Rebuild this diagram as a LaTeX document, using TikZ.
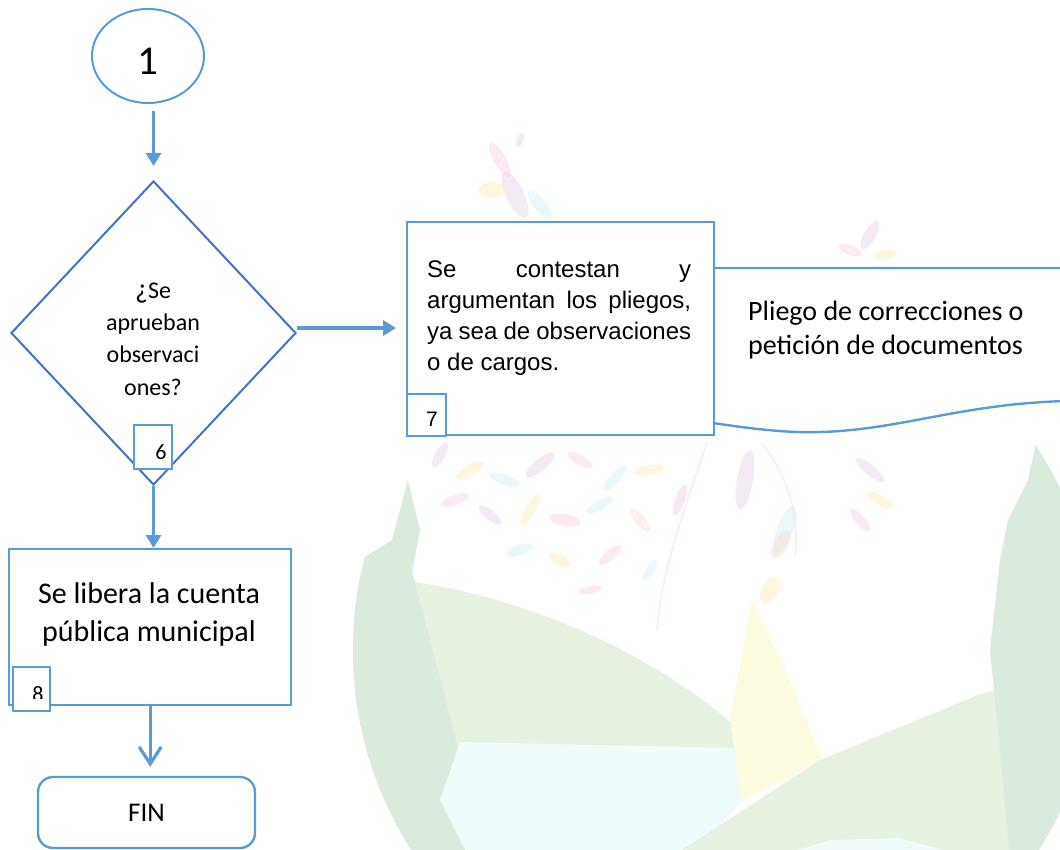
\documentclass[tikz,border=0pt]{standalone}
\usepackage{fontspec}
\setmainfont{Carlito}
\newfontfamily\arialfont{Liberation Sans}
\usetikzlibrary{arrows.meta,shapes.geometric}

\definecolor{flowblue}{HTML}{5B9BD5}
\definecolor{diamblue}{HTML}{4472C4}
% pale watermark colours
\definecolor{wmgreen}{RGB}{230,241,225}
\definecolor{wmgreenD}{RGB}{218,234,221}
\definecolor{wmblue}{RGB}{240,251,252}
\definecolor{wmyellow}{RGB}{253,252,224}
\definecolor{wmpink}{RGB}{248,214,234}
\definecolor{wmpurple}{RGB}{232,214,234}
\definecolor{wmcyan}{RGB}{214,242,248}
\definecolor{wmorange}{RGB}{250,222,210}
\definecolor{wmfeather}{RGB}{253,240,196}

\tikzset{
  boxline/.style={draw=flowblue, line width=2.4pt, fill=white},
  tagbox/.style={draw=flowblue, line width=2.2pt, fill=white, inner sep=0pt},
  flowarrow/.style={draw=flowblue, line width=3.5pt, -{Triangle[length=13pt,width=15pt]}},
  openarrow/.style={draw=flowblue, line width=3.2pt, -{Straight Barb[length=17pt,width=22pt]}},
  tagtext/.style={inner sep=0pt, font=\fontsize{22}{22}\selectfont},
}

\begin{document}
\begin{tikzpicture}[x=1pt,y=-1pt]
\useasboundingbox (0,0) rectangle (1060,850);
\fill[white] (0,0) rectangle (1060,850);

% ---- faint landscape emblem in the background ----
\begin{scope}
  \clip (725,650) circle (372pt);
  \fill[wmgreen] (340,575) .. controls (500,580) and (650,650) .. (737,728)
     -- (740,760) -- (460,742) -- (470,850) -- (340,850) -- cycle;
  \fill[wmgreenD] (340,600) -- (360,560) -- (392,540) -- (408,480) -- (420,530)
     -- (412,572) -- (430,640) -- (458,748) -- (440,800) -- (470,850) -- (340,850) -- cycle;
  \fill[wmblue] (460,742) -- (737,748) -- (742,800) -- (690,860) -- (470,860) -- (440,800) -- cycle;
  \fill[wmyellow] (752,600) -- (790,680) -- (822,760) -- (742,800) -- (730,720) -- cycle;
  \fill[wmgreen] (682,850) -- (820,760) -- (978,695) -- (1070,668) -- (1070,860) -- cycle;
  \fill[wmblue] (760,862) -- (830,840) -- (900,838) -- (960,855) -- (960,870) -- cycle;
  \fill[wmgreenD] (1070,420) -- (1040,425) -- (1028,480) -- (1008,520) -- (1000,560)
     -- (990,650) -- (1000,750) -- (1010,860) -- (1070,860) -- cycle;
\end{scope}
\begin{scope}[opacity=0.5]
\foreach \x/\y/\a/\rx/\ry/\c in {
  440/455/60/14/5/wmpurple, 470/470/30/16/5/wmfeather, 505/480/-20/16/5/wmcyan,
  540/465/40/18/6/wmpurple, 580/460/-30/14/5/wmpink, 615/478/50/16/5/wmcyan,
  650/470/10/15/5/wmfeather, 455/500/20/15/5/wmpink, 490/515/-40/14/5/wmpurple,
  530/510/60/18/5/wmfeather, 565/520/-10/16/6/wmpink, 600/505/30/15/5/wmcyan,
  640/520/-50/14/5/wmorange, 680/500/70/16/5/wmpurple, 520/550/20/14/5/wmcyan,
  560/560/-30/12/5/wmfeather, 610/555/40/14/5/wmpink, 650/570/60/12/4/wmcyan,
  590/590/10/12/4/wmpink, 745/480/80/30/8/wmpurple, 785/530/70/25/8/wmcyan,
  770/590/60/15/8/wmfeather, 781/544/60/16/7/wmorange, 870/470/-40/18/5/wmpurple,
  880/500/-30/15/5/wmfeather, 860/520/-50/14/5/wmpink, 500/160/-60/20/6/wmpink,
  515/195/-65/25/9/wmpurple, 492/190/0/14/8/wmfeather, 540/205/-50/18/6/wmcyan,
  520/140/70/8/3/wmpurple, 870/235/60/16/6/wmpurple, 850/250/-20/12/5/wmpink,
  885/255/10/12/5/wmfeather}
  \fill[\c] (\x,\y) ellipse [x radius=\rx, y radius=\ry, rotate=\a];
\draw[wmpink, line width=1.5pt] (707,443) .. controls (680,520) and (660,580) .. (657,630);
\draw[wmpink, line width=1.5pt] (762,443) .. controls (790,480) and (800,520) .. (795,555);
\end{scope}

% ---- connector circle ----
\node[ellipse, draw=flowblue, line width=2pt, fill=white, minimum width=112pt,
      minimum height=94pt, inner sep=0pt] (c1) at (148,56) {};
\node[inner sep=0pt, font=\fontsize{41}{41}\selectfont] (c1text) at (148,61.5) {1};

% ---- decision ----
\node[diamond, draw=diamblue, line width=2pt, fill=white, minimum width=285pt,
      minimum height=304pt, inner sep=0pt] (dia) at (153.5,333) {};
\node[align=center, inner sep=0pt, font=\fontsize{24}{32.3}\selectfont] (qtext) at (153,339)
  {{\fontsize{28}{32}\selectfont ¿}Se\\aprueban\\observaci\\ones?};
\node[tagbox, minimum width=38pt, minimum height=44pt] (n6) at (153,447) {};
\node[tagtext] (n6text) at (161,452) {6};

% ---- document shape beside step 7 ----
\draw[boxline] (713,268) -- (1066,268) -- (1066,401)
  .. controls (960,404) and (900,430) .. (820,432)
  .. controls (790,433) and (760,430) .. (713,423) -- cycle;
\node[anchor=west, align=left, inner sep=0pt, font=\fontsize{28}{33.5}\selectfont] (pliego) at (748,330)
  {Pliego de correcciones o\\petición de documentos};

% ---- step 7 ----
\node[boxline, minimum width=307pt, minimum height=213pt, anchor=north west, inner sep=0pt] (b7) at (406,221) {};
\node[anchor=north west, inner sep=0pt, font=\arialfont\fontsize{24}{31}\selectfont] (b7text) at (427,261)
  {\parbox[t]{264pt}{%
   \makebox[264pt][s]{Se contestan y}\\
   \makebox[264pt][s]{argumentan los pliegos,}\\
   \makebox[264pt][s]{ya sea de observaciones}\\
   o de cargos.}};
\node[tagbox, minimum width=39pt, minimum height=42pt, anchor=north west] (n7) at (406,393) {};
\node[inner sep=0pt, font=\arialfont\fontsize{21}{21}\selectfont] (n7text) at (432,419) {7};

% ---- step 8 ----
\node[boxline, minimum width=282pt, minimum height=156pt, anchor=north west, inner sep=0pt] (b8) at (8,548) {};
\node[align=center, inner sep=0pt, font=\fontsize{30}{38}\selectfont] (b8text) at (149,614)
  {Se libera la cuenta\\pública municipal};
\node[tagbox, minimum width=37pt, minimum height=44pt, anchor=north west] (n8) at (12,666) {};
\begin{scope}
  \clip (12,666) rectangle (49,698);
  \node[anchor=north, inner sep=0pt, font=\fontsize{22}{22}\selectfont] (n8text) at (38,686) {8};
\end{scope}

% ---- end ----
\node[draw=flowblue, line width=2.4pt, fill=white, rounded corners=15pt,
      minimum width=217pt, minimum height=71pt, font=\fontsize{27}{27}\selectfont] (fin) at (146.5,812.5) {FIN};

% ---- connectors ----
\draw[flowarrow, shorten <=7pt, shorten >=14pt] (dia.north |- c1.south) -- (dia.north);
\draw[flowarrow, shorten >=10pt] ([yshift=5pt]dia.east) -- ([yshift=5pt]dia.east -| b7.west);
\draw[flowarrow] (dia.south) -- (dia.south |- b8.north);
\draw[openarrow, shorten >=9pt] (b8.south) -- (b8.south |- fin.north);
\end{tikzpicture}
\end{document}
